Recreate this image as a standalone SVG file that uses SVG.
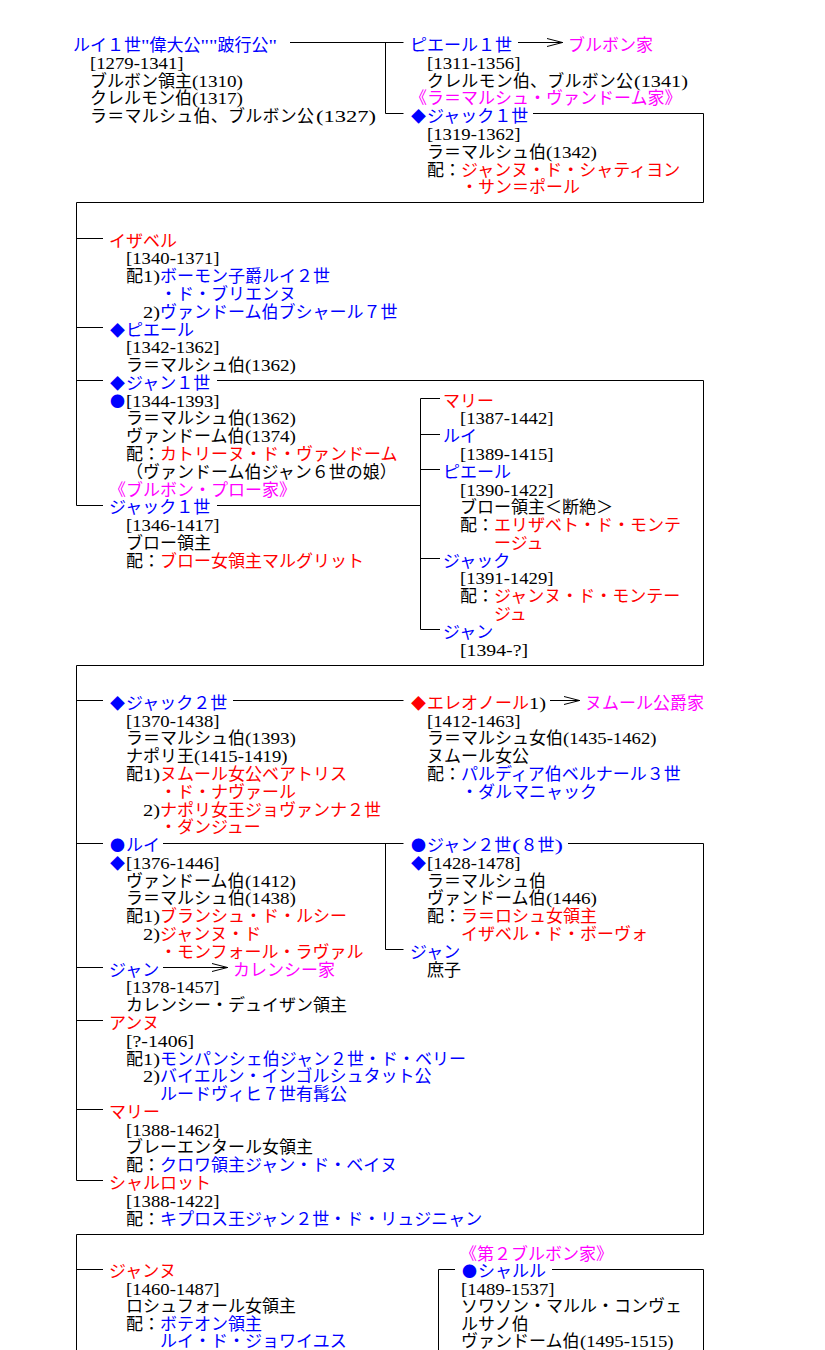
<svg xmlns="http://www.w3.org/2000/svg" width="825" height="1350" viewBox="0 0 825 1350">
<style>
text{font-family:'Liberation Serif','Noto Sans CJK JP',serif;font-size:17px}
.h{font-family:'Liberation Serif',serif;font-size:17px}
.s{font-family:'Noto Sans CJK JP',sans-serif;font-size:15px}
.k{fill:#000}.b{fill:#0000ff}.r{fill:#ff0000}.m{fill:#ff00ff}
.ln{stroke:#000;stroke-width:1;fill:none}
</style>
<defs>
<marker id="ah" viewBox="0 0 16 10" refX="16" refY="5" markerWidth="16" markerHeight="10" markerUnits="userSpaceOnUse" orient="auto">
<path d="M0,1 L15.5,5 L0,9" fill="none" stroke="#000" stroke-width="1"/>
</marker>
</defs>
<rect width="825" height="1350" fill="#fff"/>
<g id="connectors" class="ln">
<path d="M290,42.5H403.5M385.5,42.5V113.5H403.5"/>
<path d="M518,42.5H563" marker-end="url(#ah)"/>
<path d="M533,113.5H703.5V202.5H76.5V505.5"/>
<path d="M76.5,238.5H103M76.5,327.5H103M76.5,380.5H103M76.5,505.5H103"/>
<path d="M217,380.5H703.5V665.5H76.5V1180.5"/>
<path d="M217,505.5H420.5M420.5,398.5V629.5"/>
<path d="M420.5,398.5H440M420.5,434.5H440M420.5,469.5H440M420.5,558.5H440M420.5,629.5H440"/>
<path d="M233,700.5H403.5"/>
<path d="M550,700.5H580" marker-end="url(#ah)"/>
<path d="M76.5,700.5H103M76.5,843.5H103M76.5,967.5H103M76.5,1020.5H103M76.5,1109.5H103M76.5,1180.5H103"/>
<path d="M163,843.5H403.5M385.5,843.5V949.5H403.5"/>
<path d="M568,843.5H703.5V1234.5H76.5V1350"/>
<path d="M163,967.5H228" marker-end="url(#ah)"/>
<path d="M76.5,1269.5H103M438.5,1350V1269.5H455M552,1269.5H703.5V1350"/>
</g>

<g id="louis1">
<text x="73" y="51" class="b">ルイ１世</text>
<text x="141" y="51" class="b h" textLength="8.5" lengthAdjust="spacingAndGlyphs">"</text>
<text x="149.5" y="51" class="b">偉大公</text>
<text x="200.5" y="51" class="b h" textLength="17" lengthAdjust="spacingAndGlyphs">""</text>
<text x="217.5" y="51" class="b">跛行公</text>
<text x="268.5" y="51" class="b h" textLength="8.5" lengthAdjust="spacingAndGlyphs">"</text>
<text x="90" y="68.8" class="k h" textLength="93.5" lengthAdjust="spacingAndGlyphs">[1279-1341]</text>
<text x="90" y="86.6" class="k">ブルボン領主</text>
<text x="192" y="86.6" class="k h" textLength="51" lengthAdjust="spacingAndGlyphs">(1310)</text>
<text x="90" y="104.3" class="k">クレルモン伯</text>
<text x="192" y="104.3" class="k h" textLength="51" lengthAdjust="spacingAndGlyphs">(1317)</text>
<text x="90" y="122.1" class="k" textLength="224">ラ＝マルシュ伯、ブルボン公</text>
<text x="316" y="122.1" class="k h" textLength="60" lengthAdjust="spacingAndGlyphs">(1327)</text>
</g>
<g id="pierre1">
<text x="410" y="51" class="b">ピエール１世</text>
<text x="568" y="51" class="m">ブルボン家</text>
<text x="427" y="68.8" class="k h" textLength="93.5" lengthAdjust="spacingAndGlyphs">[1311-1356]</text>
<text x="427" y="86.6" class="k" textLength="206">クレルモン伯、ブルボン公</text>
<text x="634" y="86.6" class="k h" textLength="54" lengthAdjust="spacingAndGlyphs">(1341)</text>
</g>
<g id="jacques1">
<text x="410" y="104.3" class="m">《ラ＝マルシュ・ヴァンドーム家》</text>
<text x="411" y="122.1" class="b s">◆</text>
<text x="427" y="122.1" class="b">ジャック１世</text>
<text x="427" y="139.9" class="k h" textLength="93.5" lengthAdjust="spacingAndGlyphs">[1319-1362]</text>
<text x="427" y="157.7" class="k">ラ＝マルシュ伯</text>
<text x="546" y="157.7" class="k h" textLength="51" lengthAdjust="spacingAndGlyphs">(1342)</text>
<text x="427" y="175.5" class="k">配：</text>
<text x="461" y="175.5" class="r">ジャンヌ・ド・シャティヨン</text>
<text x="461" y="193.2" class="r">・サン＝ポール</text>
</g>

<g id="isabelle">
<text x="109" y="246.6" class="r">イザベル</text>
<text x="126" y="264.4" class="k h" textLength="93.5" lengthAdjust="spacingAndGlyphs">[1340-1371]</text>
<text x="126" y="282.1" class="k">配</text>
<text x="143" y="282.1" class="k h" textLength="17" lengthAdjust="spacingAndGlyphs">1)</text>
<text x="160" y="282.1" class="b">ボーモン子爵ルイ２世</text>
<text x="160" y="299.9" class="b">・ド・ブリエンヌ</text>
<text x="143" y="317.7" class="k h" textLength="17" lengthAdjust="spacingAndGlyphs">2)</text>
<text x="160" y="317.7" class="b">ヴァンドーム伯ブシャール７世</text>
</g>
<g id="pierre">
<text x="110" y="335.5" class="b s">◆</text>
<text x="126" y="335.5" class="b">ピエール</text>
<text x="126" y="353.3" class="k h" textLength="93.5" lengthAdjust="spacingAndGlyphs">[1342-1362]</text>
<text x="126" y="371" class="k">ラ＝マルシュ伯</text>
<text x="245" y="371" class="k h" textLength="51" lengthAdjust="spacingAndGlyphs">(1362)</text>
</g>
<g id="jean1">
<text x="110" y="388.8" class="b s">◆</text>
<text x="126" y="388.8" class="b">ジャン１世</text>
<text x="110" y="406.6" class="b s">●</text>
<text x="126" y="406.6" class="k h" textLength="93.5" lengthAdjust="spacingAndGlyphs">[1344-1393]</text>
<text x="126" y="424.4" class="k">ラ＝マルシュ伯</text>
<text x="245" y="424.4" class="k h" textLength="51" lengthAdjust="spacingAndGlyphs">(1362)</text>
<text x="126" y="442.2" class="k">ヴァンドーム伯</text>
<text x="245" y="442.2" class="k h" textLength="51" lengthAdjust="spacingAndGlyphs">(1374)</text>
<text x="126" y="459.9" class="k">配：</text>
<text x="160" y="459.9" class="r">カトリーヌ・ド・ヴァンドーム</text>
<text x="126" y="477.7" class="k">（ヴァンドーム伯ジャン６世の娘）</text>
</g>
<g id="jacques1-preaux">
<text x="109" y="495.5" class="m">《ブルボン・プロー家》</text>
<text x="109" y="513.3" class="b">ジャック１世</text>
<text x="126" y="531.1" class="k h" textLength="93.5" lengthAdjust="spacingAndGlyphs">[1346-1417]</text>
<text x="126" y="548.8" class="k">ブロー領主</text>
<text x="126" y="566.6" class="k">配：</text>
<text x="160" y="566.6" class="r">ブロー女領主マルグリット</text>
</g>
<g id="marie-p">
<text x="443" y="406.6" class="r">マリー</text>
<text x="460" y="424.4" class="k h" textLength="93.5" lengthAdjust="spacingAndGlyphs">[1387-1442]</text>
</g>
<g id="louis-p">
<text x="443" y="442.2" class="b">ルイ</text>
<text x="460" y="459.9" class="k h" textLength="93.5" lengthAdjust="spacingAndGlyphs">[1389-1415]</text>
</g>
<g id="pierre-p">
<text x="443" y="477.7" class="b">ピエール</text>
<text x="460" y="495.5" class="k h" textLength="93.5" lengthAdjust="spacingAndGlyphs">[1390-1422]</text>
<text x="460" y="513.3" class="k">ブロー領主＜断絶＞</text>
<text x="460" y="531.1" class="k">配：</text>
<text x="494" y="531.1" class="r">エリザベト・ド・モンテ</text>
<text x="494" y="548.8" class="r">ージュ</text>
</g>
<g id="jacques-p">
<text x="443" y="566.6" class="b">ジャック</text>
<text x="460" y="584.4" class="k h" textLength="93.5" lengthAdjust="spacingAndGlyphs">[1391-1429]</text>
<text x="460" y="602.2" class="k">配：</text>
<text x="494" y="602.2" class="r">ジャンヌ・ド・モンテー</text>
<text x="494" y="620" class="r">ジュ</text>
</g>
<g id="jean-p">
<text x="443" y="637.7" class="b">ジャン</text>
<text x="460" y="655.5" class="k h" textLength="68" lengthAdjust="spacingAndGlyphs">[1394-?]</text>
</g>

<g id="jacques2">
<text x="110" y="708.9" class="b s">◆</text>
<text x="126" y="708.9" class="b">ジャック２世</text>
<text x="126" y="726.6" class="k h" textLength="93.5" lengthAdjust="spacingAndGlyphs">[1370-1438]</text>
<text x="126" y="744.4" class="k">ラ＝マルシュ伯</text>
<text x="245" y="744.4" class="k h" textLength="51" lengthAdjust="spacingAndGlyphs">(1393)</text>
<text x="126" y="762.2" class="k">ナポリ王</text>
<text x="194" y="762.2" class="k h" textLength="93.5" lengthAdjust="spacingAndGlyphs">(1415-1419)</text>
<text x="126" y="780" class="k">配</text>
<text x="143" y="780" class="k h" textLength="17" lengthAdjust="spacingAndGlyphs">1)</text>
<text x="160" y="780" class="r">ヌムール女公ベアトリス</text>
<text x="160" y="797.8" class="r">・ド・ナヴァール</text>
<text x="143" y="815.5" class="k h" textLength="17" lengthAdjust="spacingAndGlyphs">2)</text>
<text x="160" y="815.5" class="r">ナポリ女王ジョヴァンナ２世</text>
<text x="160" y="833.3" class="r">・ダンジュー</text>
</g>
<g id="eleonore">
<text x="411" y="708.9" class="r s">◆</text>
<text x="427" y="708.9" class="r">エレオノール</text>
<text x="529" y="708.9" class="k h" textLength="17" lengthAdjust="spacingAndGlyphs">1)</text>
<text x="585" y="708.9" class="m">ヌムール公爵家</text>
<text x="427" y="726.6" class="k h" textLength="93.5" lengthAdjust="spacingAndGlyphs">[1412-1463]</text>
<text x="427" y="744.4" class="k">ラ＝マルシュ女伯</text>
<text x="563" y="744.4" class="k h" textLength="93.5" lengthAdjust="spacingAndGlyphs">(1435-1462)</text>
<text x="427" y="762.2" class="k">ヌムール女公</text>
<text x="427" y="780" class="k">配：</text>
<text x="461" y="780" class="b">パルディア伯ベルナール３世</text>
<text x="461" y="797.8" class="b">・ダルマニャック</text>
</g>
<g id="louis">
<text x="110" y="850.6" class="b s">●</text>
<text x="126" y="851.1" class="b">ルイ</text>
<text x="110" y="869.4" class="b s">◆</text>
<text x="126" y="868.9" class="k h" textLength="93.5" lengthAdjust="spacingAndGlyphs">[1376-1446]</text>
<text x="126" y="886.7" class="k">ヴァンドーム伯</text>
<text x="245" y="886.7" class="k h" textLength="51" lengthAdjust="spacingAndGlyphs">(1412)</text>
<text x="126" y="904.4" class="k">ラ＝マルシュ伯</text>
<text x="245" y="904.4" class="k h" textLength="51" lengthAdjust="spacingAndGlyphs">(1438)</text>
<text x="126" y="922.2" class="k">配</text>
<text x="143" y="922.2" class="k h" textLength="17" lengthAdjust="spacingAndGlyphs">1)</text>
<text x="160" y="922.2" class="r">ブランシュ・ド・ルシー</text>
<text x="143" y="940" class="k h" textLength="17" lengthAdjust="spacingAndGlyphs">2)</text>
<text x="160" y="940" class="r">ジャンヌ・ド</text>
<text x="160" y="957.8" class="r">・モンフォール・ラヴァル</text>
</g>
<g id="jean2">
<text x="411" y="850.6" class="b s">●</text>
<text x="427" y="851.1" class="b">ジャン２世</text>
<text x="512" y="851.1" class="b h" textLength="8.5" lengthAdjust="spacingAndGlyphs">(</text>
<text x="520.5" y="851.1" class="b">８世</text>
<text x="554.5" y="851.1" class="b h" textLength="8.5" lengthAdjust="spacingAndGlyphs">)</text>
<text x="411" y="869.4" class="b s">◆</text>
<text x="427" y="868.9" class="k h" textLength="93.5" lengthAdjust="spacingAndGlyphs">[1428-1478]</text>
<text x="427" y="886.7" class="k">ラ＝マルシュ伯</text>
<text x="427" y="904.4" class="k">ヴァンドーム伯</text>
<text x="546" y="904.4" class="k h" textLength="51" lengthAdjust="spacingAndGlyphs">(1446)</text>
<text x="427" y="922.2" class="k">配：</text>
<text x="461" y="922.2" class="r">ラ＝ロシュ女領主</text>
<text x="461" y="940" class="r">イザベル・ド・ボーヴォ</text>
</g>
<g id="jean-batard">
<text x="410" y="957.8" class="b">ジャン</text>
<text x="427" y="975.6" class="k">庶子</text>
</g>
<g id="jean-carency">
<text x="109" y="975.6" class="b">ジャン</text>
<text x="233" y="975.6" class="m">カレンシー家</text>
<text x="126" y="993.3" class="k h" textLength="93.5" lengthAdjust="spacingAndGlyphs">[1378-1457]</text>
<text x="126" y="1011.1" class="k">カレンシー・デュイザン領主</text>
</g>
<g id="anne">
<text x="109" y="1028.9" class="r">アンヌ</text>
<text x="126" y="1046.7" class="k h" textLength="68" lengthAdjust="spacingAndGlyphs">[?-1406]</text>
<text x="126" y="1064.5" class="k">配</text>
<text x="143" y="1064.5" class="k h" textLength="17" lengthAdjust="spacingAndGlyphs">1)</text>
<text x="160" y="1064.5" class="b">モンパンシェ伯ジャン２世・ド・ベリー</text>
<text x="143" y="1082.2" class="k h" textLength="17" lengthAdjust="spacingAndGlyphs">2)</text>
<text x="160" y="1082.2" class="b">バイエルン・インゴルシュタット公</text>
<text x="160" y="1100" class="b">ルードヴィヒ７世有髯公</text>
</g>
<g id="marie">
<text x="109" y="1117.8" class="r">マリー</text>
<text x="126" y="1135.6" class="k h" textLength="93.5" lengthAdjust="spacingAndGlyphs">[1388-1462]</text>
<text x="126" y="1153.4" class="k">ブレーエンタール女領主</text>
<text x="126" y="1171.1" class="k">配：</text>
<text x="160" y="1171.1" class="b">クロワ領主ジャン・ド・ベイヌ</text>
</g>
<g id="charlotte">
<text x="109" y="1188.9" class="r">シャルロット</text>
<text x="126" y="1206.7" class="k h" textLength="93.5" lengthAdjust="spacingAndGlyphs">[1388-1422]</text>
<text x="126" y="1224.5" class="k">配：</text>
<text x="160" y="1224.5" class="b">キプロス王ジャン２世・ド・リュジニャン</text>
</g>

<g id="jeanne">
<text x="109" y="1277.3" class="r">ジャンヌ</text>
<text x="126" y="1294.8" class="k h" textLength="93.5" lengthAdjust="spacingAndGlyphs">[1460-1487]</text>
<text x="126" y="1312.3" class="k">ロシュフォール女領主</text>
<text x="126" y="1329.5" class="k">配：</text>
<text x="160" y="1329.5" class="b">ボテオン領主</text>
<text x="160" y="1346.5" class="b">ルイ・ド・ジョワイユス</text>
</g>
<g id="charles">
<text x="460" y="1259.5" class="m">《第２ブルボン家》</text>
<text x="462" y="1277.3" class="b s">●</text>
<text x="478" y="1277.3" class="b">シャルル</text>
<text x="461" y="1294.8" class="k h" textLength="93.5" lengthAdjust="spacingAndGlyphs">[1489-1537]</text>
<text x="461" y="1312.3" class="k">ソワソン・マルル・コンヴェ</text>
<text x="461" y="1329.5" class="k">ルサノ伯</text>
<text x="461" y="1346.5" class="k">ヴァンドーム伯</text>
<text x="580" y="1346.5" class="k h" textLength="93.5" lengthAdjust="spacingAndGlyphs">(1495-1515)</text>
</g>
</svg>
